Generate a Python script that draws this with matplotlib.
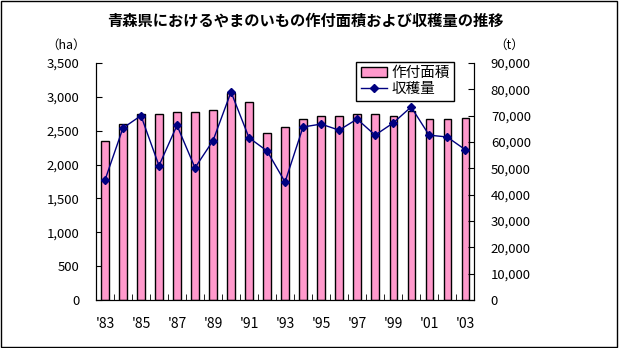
import matplotlib.pyplot as plt
import matplotlib.ticker as mticker
import numpy as np

plt.rcParams['font.family'] = ['Noto Sans CJK JP', 'DejaVu Sans']

years = list(range(1983, 2004))
area_ha = [2350, 2600, 2750, 2750, 2780, 2780, 2810, 3050, 2930, 2470, 2560,
           2680, 2710, 2720, 2740, 2740, 2720, 2790, 2670, 2670, 2690]
harvest_t = [45500, 65300, 70000, 51000, 66300, 50200, 60500, 79000, 61600, 56600, 44800,
             65700, 66800, 64500, 68700, 62600, 67200, 73300, 62600, 61900, 57100]
year_labels = ["'83", "'85", "'87", "'89", "'91", "'93", "'95", "'97", "'99", "'01", "'03"]

fig = plt.figure(figsize=(6.19, 3.48), dpi=100)
ax = fig.add_axes([0.155, 0.138, 0.611, 0.681])
ax2 = ax.twinx()

x = np.arange(len(years))
bars = ax.bar(x, area_ha, width=0.4, color='#FF99CC', edgecolor='black', linewidth=1,
              label='作付面積', zorder=2)
line, = ax2.plot(x, harvest_t, color='#000080', linewidth=1, marker='D', markersize=4,
                 label='収穫量', zorder=3)

ax.set_xlim(-0.5, len(years) - 0.5)
ax.set_ylim(0, 3500)
ax2.set_ylim(0, 90000)
ax.yaxis.set_major_locator(mticker.MultipleLocator(500))
ax2.yaxis.set_major_locator(mticker.MultipleLocator(10000))
ax.yaxis.set_major_formatter(mticker.StrMethodFormatter('{x:,.0f}'))
ax2.yaxis.set_major_formatter(mticker.StrMethodFormatter('{x:,.0f}'))

# year labels every other year, ticks at category boundaries
ax.set_xticks(x[::2])
ax.set_xticklabels(year_labels)
ax.set_xticks(np.arange(-0.5, len(years), 1), minor=True)
ax.tick_params(axis='x', which='major', length=0, pad=12, labelsize=10)
ax.tick_params(axis='x', which='minor', direction='in', length=4)
ax.tick_params(axis='y', direction='in', length=4, labelsize=9.5, pad=12)
ax2.tick_params(axis='y', direction='in', length=4, labelsize=9.5, pad=12)

for a in (ax, ax2):
    a.spines['top'].set_visible(False)
ax.set_zorder(ax2.get_zorder() - 1)
ax.patch.set_visible(False)

fig.text(0.493, 0.94, '青森県におけるやまのいもの作付面積および収穫量の推移',
         ha='center', va='center', fontsize=11, fontweight='bold')
fig.text(0.107, 0.87, '（ha）', ha='center', va='center', fontsize=9)
fig.text(0.822, 0.87, '（t）', ha='center', va='center', fontsize=9)

leg = ax2.legend([bars, line], ['作付面積', '収穫量'], loc='upper left',
                 bbox_to_anchor=(0.688, 1.005), borderaxespad=0, fontsize=10.5,
                 frameon=True, fancybox=False, edgecolor='black', framealpha=1,
                 handlelength=1.8, handleheight=0.6, borderpad=0.3, labelspacing=0.15,
                 handletextpad=0.3)
leg.get_frame().set_linewidth(1)

fig.patches.append(plt.Rectangle((0.002, 0.003), 0.995, 0.994, transform=fig.transFigure,
                                 fill=False, edgecolor='black', linewidth=1))

fig.savefig('out.png', dpi=100)
